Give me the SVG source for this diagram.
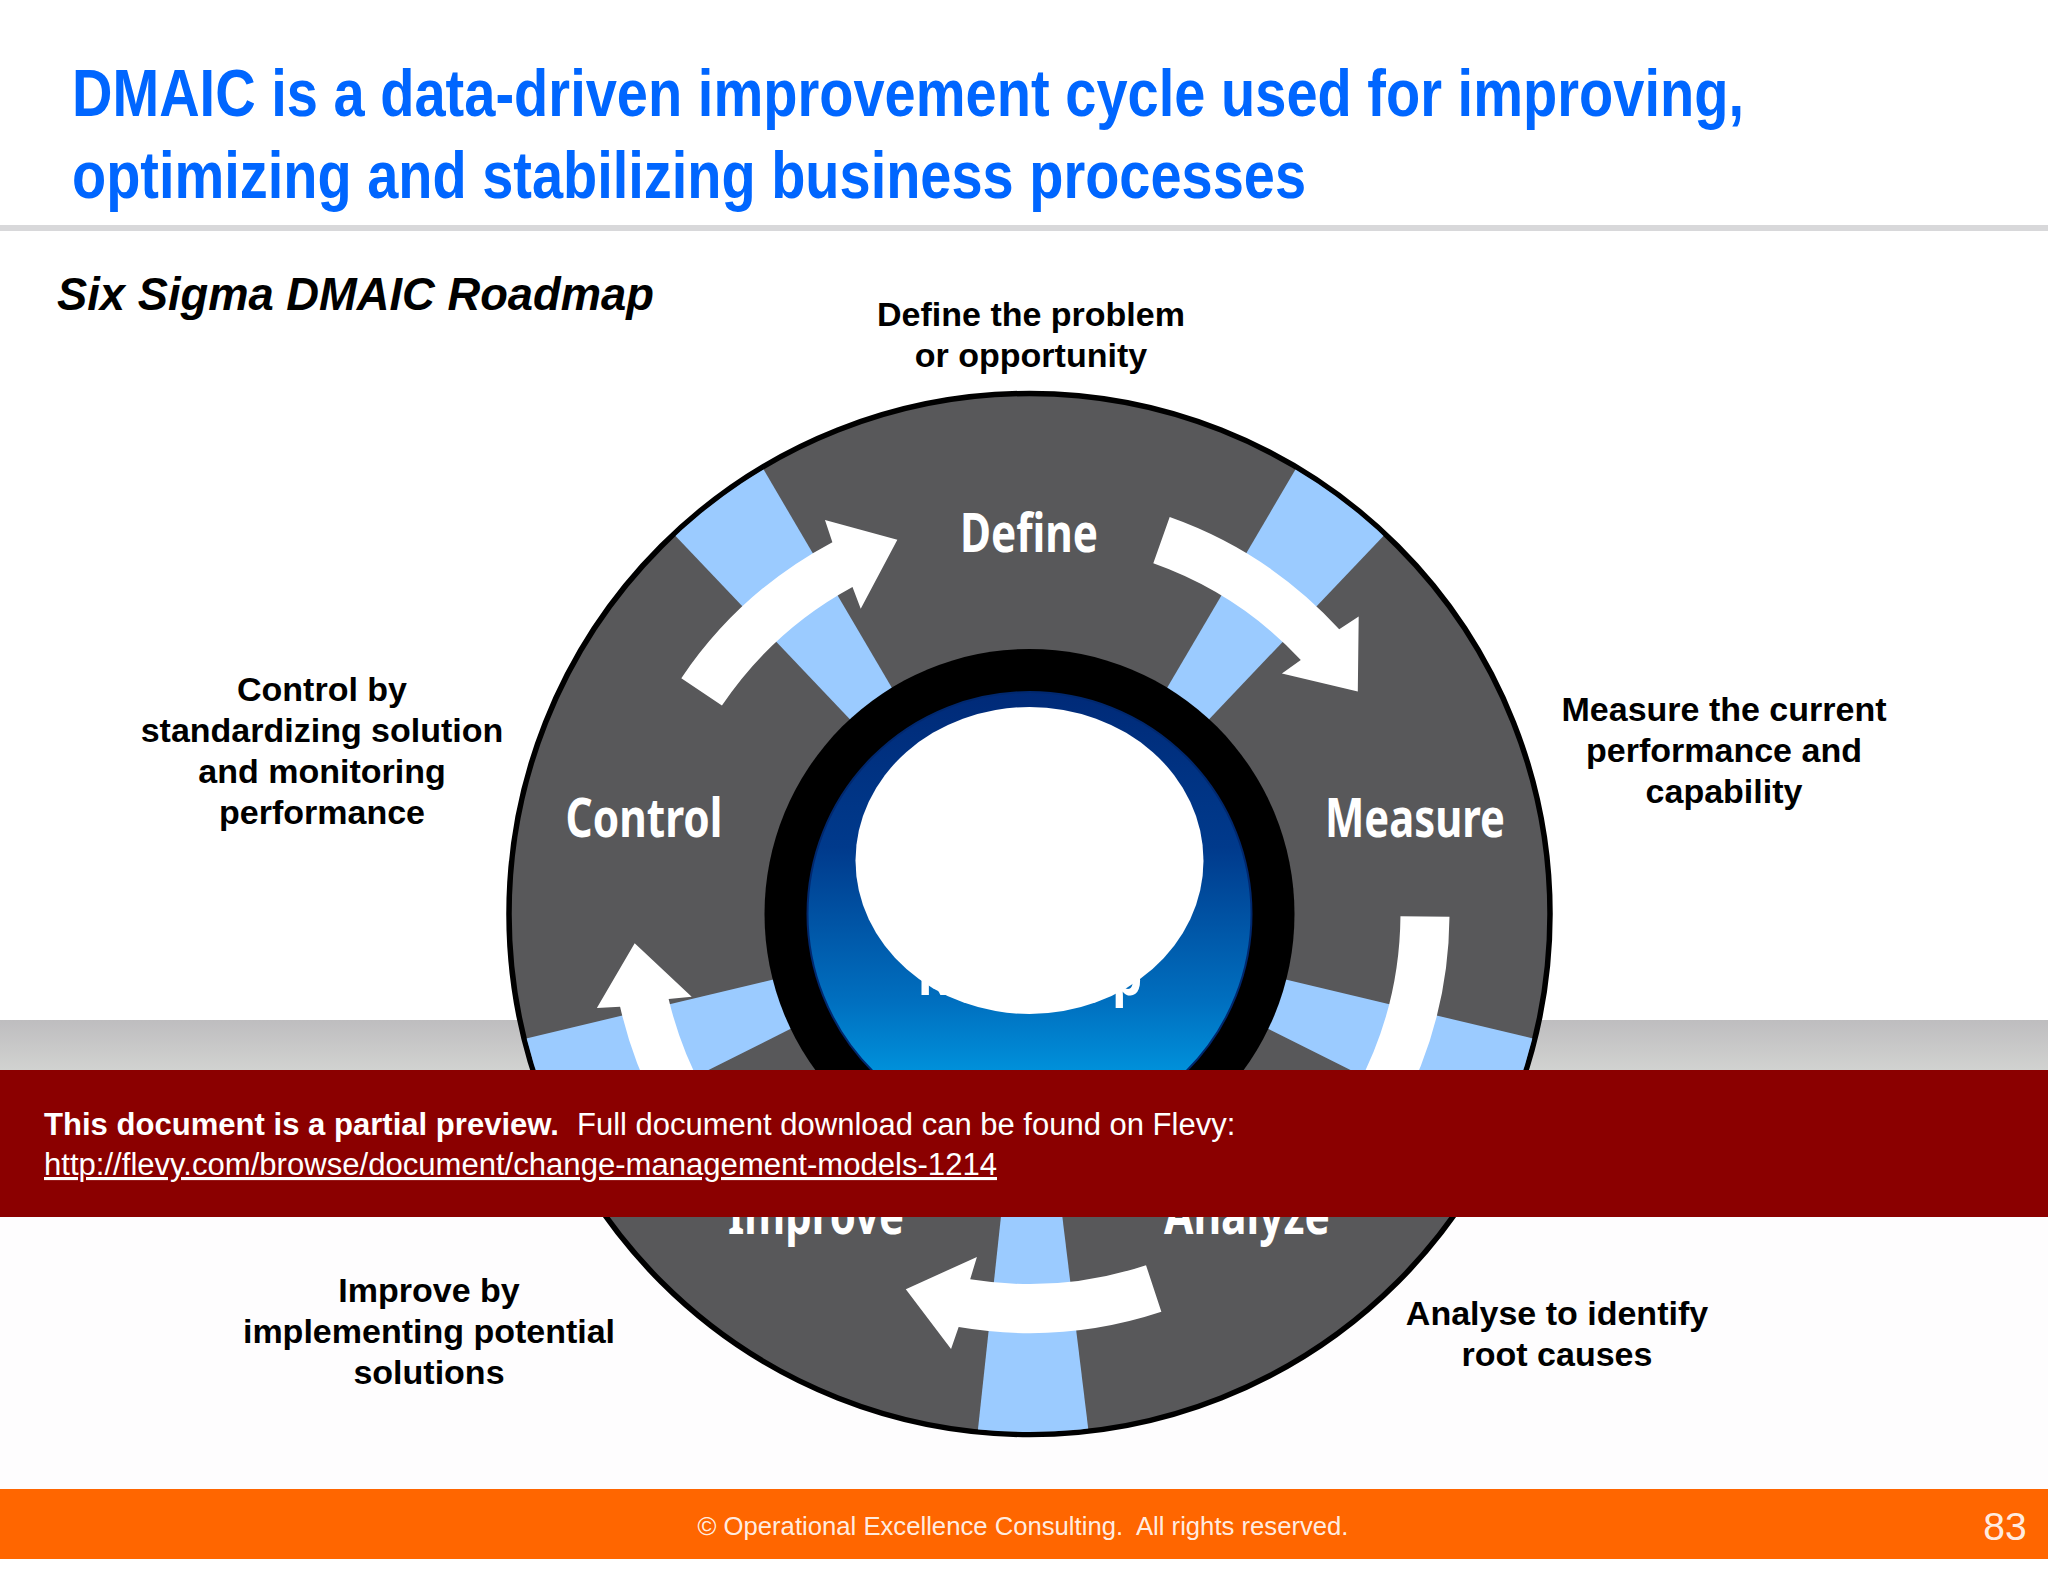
<svg xmlns="http://www.w3.org/2000/svg" width="2048" height="1582" viewBox="0 0 2048 1582">
<defs>
<linearGradient id="band" x1="0" y1="0" x2="0" y2="1"><stop offset="0" stop-color="#bebdbf"/><stop offset="1" stop-color="#d2d3d1"/></linearGradient>
<linearGradient id="hub" gradientUnits="userSpaceOnUse" x1="0" y1="-223" x2="0" y2="223"><stop offset="0" stop-color="#002a78"/><stop offset="0.35" stop-color="#003a8c"/><stop offset="0.7" stop-color="#0070c0"/><stop offset="0.85" stop-color="#0090da"/><stop offset="1" stop-color="#00a8ea"/></linearGradient>
<clipPath id="disc"><circle cx="0" cy="0" r="518"/></clipPath>
<path id="spoke" d="M-26 -262 L26 -262 L58 -540 L-58 -540 Z" fill="#9bcbff"/>
<path id="arrow" d="M140.2 -395.9 A420 420 0 0 1 309.7 -283.7 L329.2 -296.4 L328.3 -221.4 L252.4 -239.6 L271.3 -253 A371 371 0 0 0 123.8 -349.7 Z" fill="#fff"/>
</defs>
<style>
.lbl{font:bold 34px "Liberation Sans",Arial,sans-serif;fill:#000;text-anchor:middle}
.ttl{font:bold 66px "Liberation Sans",Arial,sans-serif;fill:#0066ff}
.wh{font:700 54px "Noto Sans",sans-serif;fill:#fff;text-anchor:middle}
.ban{font:31px "Liberation Sans",Arial,sans-serif;fill:#fff}
.banb{font:bold 31px "Liberation Sans",Arial,sans-serif;fill:#fff}
</style>
<rect width="2048" height="1582" fill="#fff"/>
<rect x="0" y="1020" width="2048" height="52" fill="url(#band)"/>
<rect x="0" y="1217" width="2048" height="272" fill="#fefdfe"/>
<g id="title">
<text class="ttl" x="72" y="116" textLength="1672" lengthAdjust="spacingAndGlyphs">DMAIC is a data-driven improvement cycle used for improving,</text>
<text class="ttl" x="72" y="198" textLength="1234" lengthAdjust="spacingAndGlyphs">optimizing and stabilizing business processes</text>
</g>
<rect id="title-rule" x="0" y="225" width="2048" height="6" fill="#d8d8da"/>
<text id="subtitle" x="57" y="310" font-family="Liberation Sans, Arial, sans-serif" font-weight="bold" font-style="italic" font-size="46" textLength="597" lengthAdjust="spacingAndGlyphs">Six Sigma DMAIC Roadmap</text>
<g id="wheel" transform="translate(1029.5 914)">
<circle r="520.5" fill="#58585a" stroke="#000" stroke-width="5.5"/>
<g clip-path="url(#disc)">
<use href="#spoke" transform="rotate(37)"/><use href="#spoke" transform="rotate(110)"/><use href="#spoke" transform="rotate(179.6)"/><use href="#spoke" transform="rotate(250)"/><use href="#spoke" transform="rotate(323)"/>
</g>
<circle r="265" fill="#000"/>
<circle r="222" fill="url(#hub)" stroke="#00286e" stroke-width="2"/>
</g>
<g id="connectors" transform="translate(1029.5 913)">
<use href="#arrow"/><use href="#arrow" transform="rotate(71)"/><use href="#arrow" transform="rotate(142.2)"/><use href="#arrow" transform="rotate(209.6)"/><use href="#arrow" transform="rotate(284.5)"/>
</g>
<g id="node-define"><text class="wh" x="1029" y="552" textLength="138" lengthAdjust="spacingAndGlyphs">Define</text><text class="lbl" x="1031" y="326">Define the problem</text><text class="lbl" x="1031" y="367">or opportunity</text></g>
<g id="node-measure"><text class="wh" x="1415" y="837" textLength="180" lengthAdjust="spacingAndGlyphs">Measure</text><text class="lbl" x="1724" y="721">Measure the current</text><text class="lbl" x="1724" y="762">performance and</text><text class="lbl" x="1724" y="803">capability</text></g>
<g id="node-analyze"><text class="wh" x="1247" y="1234" textLength="166" lengthAdjust="spacingAndGlyphs">Analyze</text><text class="lbl" x="1557" y="1325">Analyse to identify</text><text class="lbl" x="1557" y="1366">root causes</text></g>
<g id="node-improve"><text class="wh" x="816" y="1234" textLength="176" lengthAdjust="spacingAndGlyphs">Improve</text><text class="lbl" x="429" y="1302">Improve by</text><text class="lbl" x="429" y="1343">implementing potential</text><text class="lbl" x="429" y="1384">solutions</text></g>
<g id="node-control"><text class="wh" x="644" y="837" textLength="157" lengthAdjust="spacingAndGlyphs">Control</text><text class="lbl" x="322" y="701">Control by</text><text class="lbl" x="322" y="742">standardizing solution</text><text class="lbl" x="322" y="783">and monitoring</text><text class="lbl" x="322" y="824">performance</text></g>
<g id="hub-node"><text class="wh" x="1030" y="995" textLength="225" lengthAdjust="spacingAndGlyphs">Roadmap</text><ellipse cx="1029.5" cy="860.5" rx="174" ry="153.5" fill="#fff"/></g>
<g id="banner"><rect x="0" y="1070" width="2048" height="147" fill="#8b0000"/>
<text class="banb" x="44" y="1135" textLength="515" lengthAdjust="spacingAndGlyphs">This document is a partial preview.</text>
<text class="ban" x="577" y="1135">Full document download can be found on Flevy:</text>
<text class="ban" x="44" y="1175" text-decoration="underline" textLength="953" lengthAdjust="spacingAndGlyphs">http://flevy.com/browse/document/change-management-models-1214</text></g>
<g id="footer"><rect x="0" y="1489" width="2048" height="70" fill="#ff6600"/>
<text x="1023" y="1535" font-family="Liberation Sans, Arial, sans-serif" font-size="26" fill="#fff" fill-opacity="0.9" text-anchor="middle" textLength="651" lengthAdjust="spacingAndGlyphs">© Operational Excellence Consulting.&#160; All rights reserved.</text>
<text x="2005" y="1540" font-family="Liberation Sans, Arial, sans-serif" font-size="39" fill="#fff" fill-opacity="0.9" text-anchor="middle">83</text></g>
</svg>
